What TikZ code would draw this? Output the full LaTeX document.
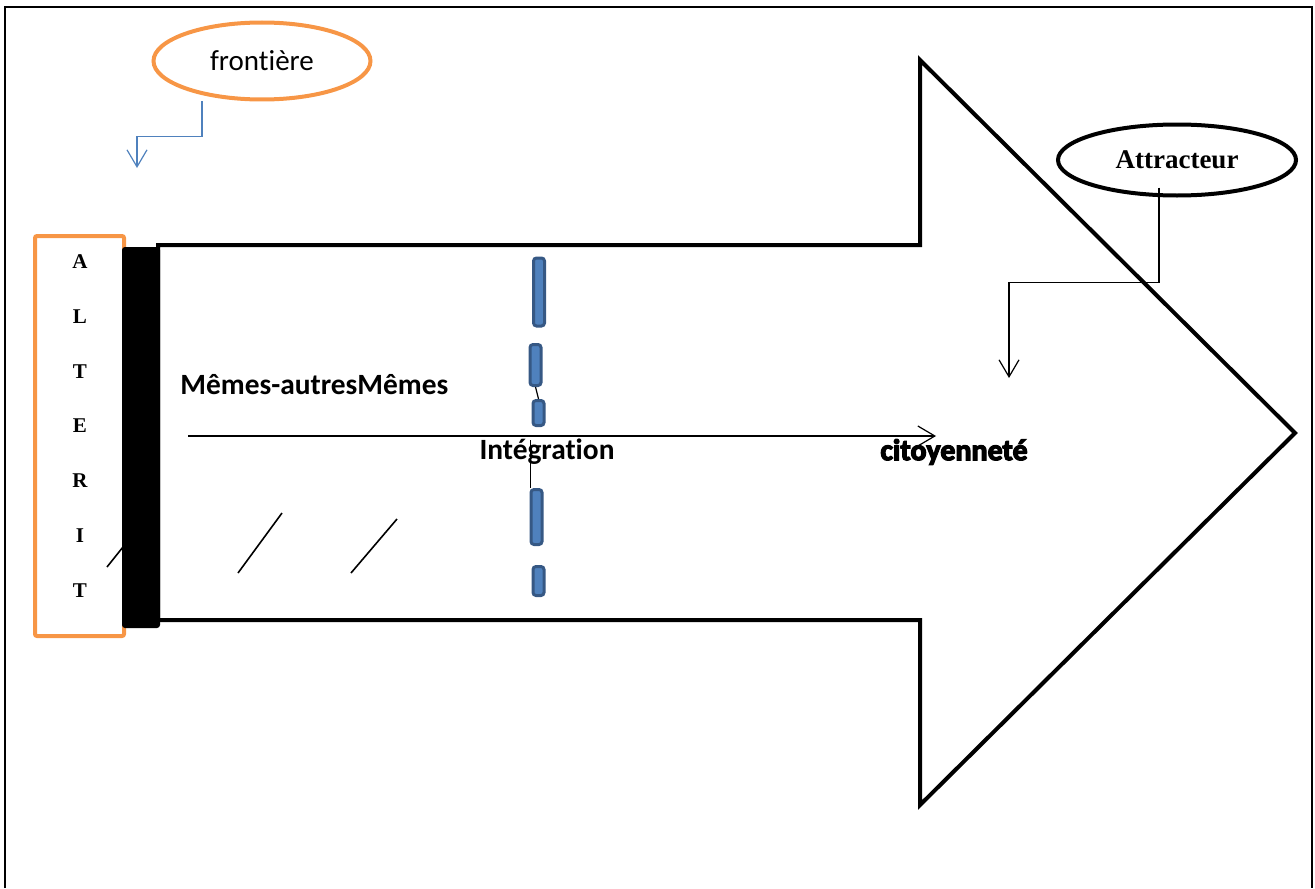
\documentclass[tikz,border=0pt]{standalone}
\usepackage{fontspec}
\setmainfont[Ligatures=NoCommon]{Carlito}
\newfontfamily\romanfont{Liberation Serif}
\newfontfamily\heavyfont[Ligatures=NoCommon,FakeBold=4]{Carlito}
\usepackage{tikz}
\usetikzlibrary{shapes.geometric,arrows.meta}

\begin{document}
\begin{tikzpicture}[x=0.5pt,y=-0.5pt,
  frame/.style={line width=1pt},
  openarrow/.style={-{Straight Barb[length=8.5pt,width=10pt]}},
  bigarrow/.style={line width=2pt,line join=miter},
  letter/.style={font=\romanfont\bfseries\fontsize{10.5}{12}\selectfont,inner sep=0pt},
  bluebar/.style={draw=dashBorder,fill=dashFill,line width=1.5pt,rounded corners=1.5pt,
    minimum width=5.5pt,inner sep=0pt},
  labeltext/.style={font=\bfseries\fontsize{14.7}{16}\selectfont,inner sep=0pt}]
\definecolor{frontOrange}{RGB}{247,150,70}
\definecolor{frontBlue}{RGB}{79,129,189}
\definecolor{dashFill}{RGB}{79,129,189}
\definecolor{dashBorder}{RGB}{54,88,132}
\useasboundingbox (0,0) rectangle (1315,888);
\draw[frame] (5,888) -- (5,7) -- (1312,7) -- (1312,888);
% big arrow
\draw[bigarrow] (158,245) -- (920,245) -- (920,60) -- (1295,433) -- (920,805) -- (920,620) -- (158,620) -- cycle;
% alterite column
\draw[frontOrange,line width=2pt,rounded corners=1pt] (35,236) rectangle (124,636);
\fill[rounded corners=1.5pt] (122,247) rectangle (160,628);
\foreach \l [count=\i] in {A,L,T,E,R,I,T}
  \node[letter] (alt\i) at (80,207.3+54.7*\i) {\l};
\draw[thick] (107,567) -- (123,547);
\draw[thick] (238,573) -- (282,513);
\draw[thick] (351,573) -- (397,519);
% frontiere
\node[ellipse,draw=frontOrange,line width=2pt,minimum width=108.5pt,minimum height=38.5pt,
  font=\fontsize{14.5}{16}\selectfont] (front) at (262,61) {frontière};
\coordinate (frontTarget) at (137,168);
\draw[frontBlue,semithick,openarrow] ([xshift=-30pt]front.south) -- ++(0,35) -| (frontTarget);
% attracteur
\node[ellipse,draw,line width=2pt,minimum width=119pt,minimum height=35.5pt,
  font=\romanfont\bfseries\fontsize{13.5}{16}\selectfont] (attr) at (1177,160) {Attracteur};
\coordinate (attrTarget) at (1009,378);
\draw[semithick,openarrow] ([xshift=-9pt,yshift=5pt]attr.south) -- ++(0,95) -| (attrTarget);
% integration axis
\foreach \cx/\cy/\h [count=\i] in {539/292/71,535.5/365/44,538.5/413/28,536.5/517/58,538.5/581/32}
  \node[bluebar,minimum height={(\h-3)*0.5pt}] (dash\i) at (\cx,\cy) {};
\draw[semithick] (dash2.south) -- (dash3.north);
\draw[semithick] ([xshift=-3pt]dash4.north) -- ++(0,-48);
\coordinate (flowStart) at (188,436);
\coordinate (flowEnd) at (936,436);
\draw[semithick,openarrow] (flowStart) -- (flowEnd);
\node[labeltext,anchor=west] (memes) at (180,385) {Mêmes-autresMêmes};
\node[labeltext] (integ) at (547,452) {Intégration};
\node[inner sep=0pt,font=\heavyfont\bfseries\fontsize{15}{16}\selectfont] (citoy) at (954,452) {citoyenneté};
\end{tikzpicture}
\end{document}
